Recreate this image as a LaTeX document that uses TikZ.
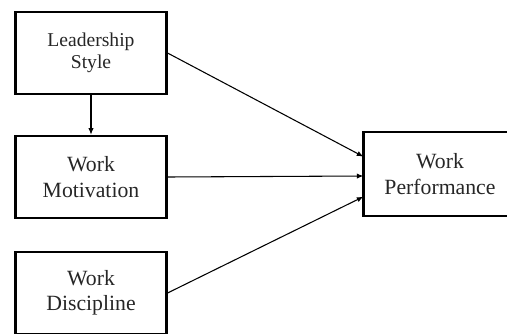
\documentclass[tikz,border=0pt]{standalone}
\usepackage{fontspec}
\setmainfont{Liberation Serif}
\usetikzlibrary{arrows.meta}

\begin{document}
\begin{tikzpicture}[x=0.75pt,y=0.75pt,yscale=-1,xscale=1]
\tikzset{varbox/.style={draw, line width=1.8pt, minimum width=113pt, minimum height=61.5pt, align=center, inner sep=0pt, text=black!85, font=\fontsize{16.3}{19}\selectfont},
  path/.style={line width=0.8pt, -{Latex[length=5pt,width=4pt]}}}
\useasboundingbox (0,0) rectangle (507,333);

% variables
\node[varbox, font=\fontsize{14.7}{16.5}\selectfont] (lead) at (91,53) {Leadership\\Style};
\node[varbox] (motiv) at (91,177) {Work\\Motivation};
\node[varbox] (disc) at (91,293) {Work\\Discipline};
\node[varbox, draw=none] (perf) at (440,174) {Work\\Performance};
% right side of the box is cut off by the page edge
\draw[line width=1.8pt] ([xshift=20pt]perf.north east) -- (perf.north west) -- (perf.south west) -- ([xshift=20pt]perf.south east);

% paths
\draw[path] (lead) -- (motiv);
\draw[path] (lead.east) -- ([yshift=-13pt]perf.west);
\draw[path] (motiv.east) -- ([yshift=1.5pt]perf.west);
\draw[path] (disc.east) -- ([yshift=17pt]perf.west);
\end{tikzpicture}
\end{document}
